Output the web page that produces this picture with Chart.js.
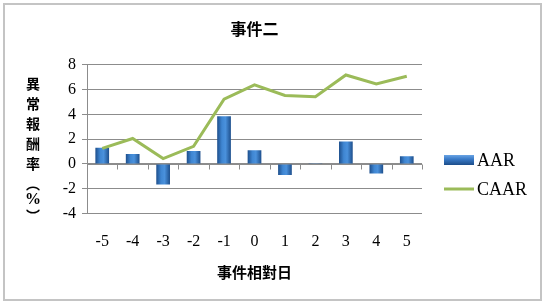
<!DOCTYPE html>
<html>
<head>
<meta charset="utf-8">
<script src="https://cdn.jsdelivr.net/npm/chart.js@4.4.0/dist/chart.umd.min.js"></script>
<style>
  html, body { margin: 0; padding: 0; background: #fff; }
  #wrap { position: relative; width: 543px; height: 303px; }
  #frame { position: absolute; left: 3px; top: 3px; width: 535px; height: 294px;
           border: 2px solid #c4c4c4; pointer-events: none; }
</style>
</head>
<body>
<div id="wrap">
  <canvas id="chart" width="543" height="303"></canvas>
  <div id="frame"></div>
</div>
<script>
// event days and series
const days = ['-5', '-4', '-3', '-2', '-1', '0', '1', '2', '3', '4', '5'];
const aar = [1.3, 0.8, -1.65, 1.05, 3.85, 1.1, -0.9, 0.05, 1.8, -0.78, 0.62];
const caar = [1.25, 2.05, 0.43, 1.42, 5.22, 6.37, 5.52, 5.42, 7.17, 6.45, 7.07];
const yTicks = { min: -4, max: 8, step: 2 };

const chartTitle = '事件二';
const xTitle = '事件相對日';
const yTitle = '異常報酬率(%)';

const serif = '"Liberation Serif", "Times New Roman", serif';
const cjk = '"Noto Sans CJK TC", "Noto Sans CJK SC", sans-serif';
const gridGrey = '#8c8c8c';

// horizontal gradient across each bar for the bevelled look
const barFill = (ctx) => {
  const chart = ctx.chart;
  if (!chart.chartArea || ctx.type !== 'data') return '#3a7bc8';
  const x = chart.scales.x.getPixelForValue(ctx.dataIndex);
  const g = chart.ctx.createLinearGradient(x - 7, 0, x + 7, 0);
  g.addColorStop(0, '#1c4d8a');
  g.addColorStop(0.35, '#3f86d2');
  g.addColorStop(0.6, '#4a91dc');
  g.addColorStop(1, '#1c4d8a');
  return g;
};

// zero line with category tick marks
const zeroAxis = {
  id: 'zeroAxis',
  beforeDatasetsDraw(chart) {
    const { ctx, chartArea, scales } = chart;
    const y0 = Math.round(scales.y.getPixelForValue(0)) + 0.5;
    const half = (scales.x.getPixelForValue(1) - scales.x.getPixelForValue(0)) / 2;
    ctx.save();
    ctx.strokeStyle = gridGrey;
    ctx.lineWidth = 1;
    ctx.beginPath();
    ctx.moveTo(chartArea.left, y0);
    ctx.lineTo(chartArea.right, y0);
    for (let i = 0; i < days.length; i++) {
      const x = Math.round(scales.x.getPixelForValue(i) + half) + 0.5;
      ctx.moveTo(x, y0);
      ctx.lineTo(x, y0 + 5);
    }
    ctx.stroke();
    ctx.restore();
  }
};

// stacked vertical y title
const verticalTitle = {
  id: 'verticalTitle',
  afterDraw(chart) {
    const ctx = chart.ctx;
    ctx.save();
    ctx.fillStyle = '#000';
    ctx.textAlign = 'center';
    ctx.textBaseline = 'middle';
    let y = 84;
    for (const ch of yTitle) {
      const isCjk = /[\u4e00-\u9fff]/.test(ch);
      const glyph = ch === '(' ? '︵' : ch === ')' ? '︶' : ch;
      if (ch === '%') ctx.font = 'bold 16px ' + serif;
      else ctx.font = 'bold 14px ' + cjk;
      ctx.fillText(glyph, 33, y);
      y += isCjk ? 20 : 16;
    }
    ctx.restore();
  }
};

// legend on the right
const sideLegend = {
  id: 'sideLegend',
  afterDraw(chart) {
    const ctx = chart.ctx;
    const ds = chart.data.datasets;
    const x = 444;
    ctx.save();
    ctx.font = '18px ' + serif;
    ctx.textBaseline = 'middle';
    // AAR box
    let y = 160;
    const g = ctx.createLinearGradient(0, y - 5, 0, y + 5);
    g.addColorStop(0, '#6aa4e4');
    g.addColorStop(0.4, '#3a7bc8');
    g.addColorStop(1, '#1c4d8a');
    ctx.fillStyle = g;
    ctx.fillRect(x, y - 5, 30, 10);
    ctx.fillStyle = '#000';
    ctx.fillText(ds[0].label, x + 33, y + 1);
    // CAAR line
    y = 189;
    ctx.strokeStyle = ds[1].borderColor;
    ctx.lineWidth = 3;
    ctx.beginPath();
    ctx.moveTo(x, y);
    ctx.lineTo(x + 30, y);
    ctx.stroke();
    ctx.fillText(ds[1].label, x + 33, y + 1);
    ctx.restore();
  }
};

new Chart(document.getElementById('chart'), {
  type: 'bar',
  data: {
    labels: days,
    datasets: [
      {
        label: 'AAR',
        data: aar,
        backgroundColor: barFill,
        borderWidth: 0,
        barPercentage: 0.45,
        categoryPercentage: 1,
        order: 2
      },
      {
        type: 'line',
        label: 'CAAR',
        data: caar,
        borderColor: '#9bbb59',
        borderWidth: 3,
        pointRadius: 0,
        tension: 0,
        order: 1
      }
    ]
  },
  options: {
    responsive: false,
    animation: false,
    layout: { padding: { left: 47, right: 121, top: 0, bottom: 25 } },
    plugins: {
      legend: { display: false },
      tooltip: { enabled: false },
      title: {
        display: true,
        text: chartTitle,
        fullSize: false,
        color: '#000',
        font: { family: cjk, size: 16, weight: 'bold' },
        padding: { top: 19, bottom: 26.5 }
      }
    },
    scales: {
      x: {
        grid: { display: false, drawTicks: false },
        border: { display: false },
        ticks: { color: '#000', font: { family: serif, size: 16, lineHeight: 0.9 }, padding: 21, maxRotation: 0 },
        title: {
          display: true,
          text: xTitle,
          color: '#000',
          font: { family: cjk, size: 15, weight: 'bold', lineHeight: 0.27 },
          padding: { top: 0, bottom: 4 }
        }
      },
      y: {
        min: yTicks.min,
        max: yTicks.max,
        ticks: { stepSize: yTicks.step, color: '#000', font: { family: serif, size: 16 }, padding: 6 },
        grid: { color: gridGrey, tickLength: 5 },
        border: { display: true, color: gridGrey },
        afterFit(scale) { scale.width = 40; }
      }
    }
  },
  plugins: [zeroAxis, verticalTitle, sideLegend]
});
</script>
</body>
</html>
